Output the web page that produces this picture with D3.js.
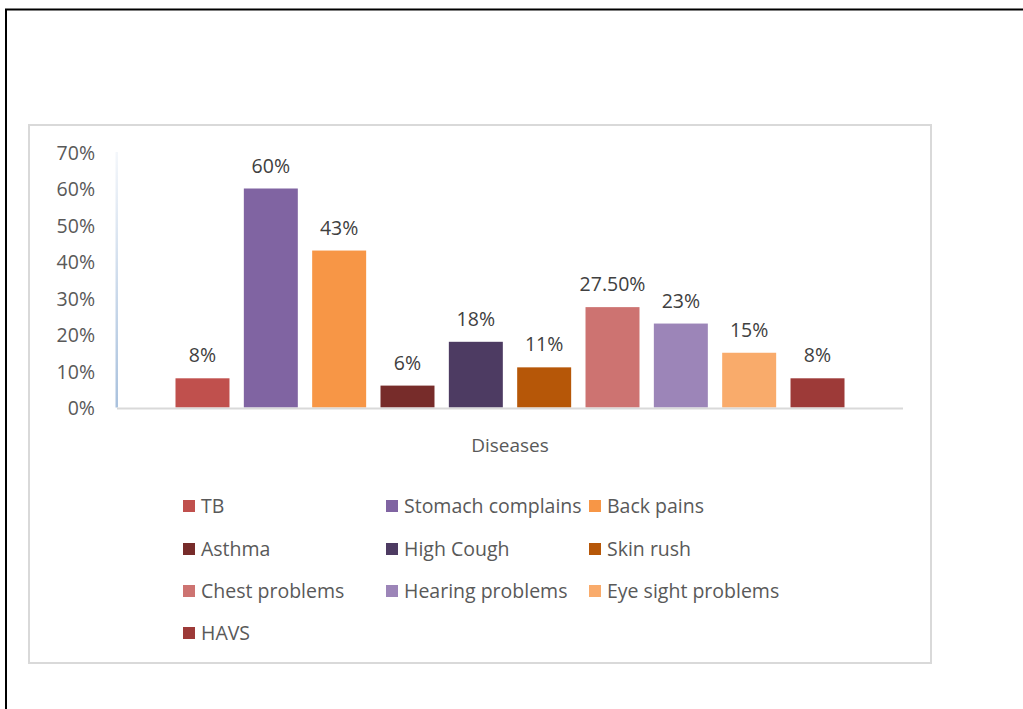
<!DOCTYPE html>
<html><head><meta charset="utf-8">
<script src="https://cdn.jsdelivr.net/npm/d3@7"></script>
<style>html,body{margin:0;padding:0;background:#fff;}svg{display:block;}</style>
</head><body>
<svg id="c" width="1023" height="709"></svg>
<script>
const categories = ["TB","Stomach complains","Back pains","Asthma","High Cough","Skin rush","Chest problems","Hearing problems","Eye sight problems","HAVS"];
const values = [8,60,43,6,18,11,27.5,23,15,8];
const valueLabels = ["8%","60%","43%","6%","18%","11%","27.50%","23%","15%","8%"];
const colors = ["#c0504d","#8064a2","#f79646","#772c2a","#4d3b62","#b65708","#cd7371","#9c85b8","#f9ab6b","#9d3a38"];
const yTicks = [0,10,20,30,40,50,60,70];
const xTitle = "Diseases";

const svg = d3.select("#c");
const font = "'Open Sans', sans-serif";

// outer page frame
svg.append("path").attr("d","M6,709 L6,9.5 L1023,9.5").attr("fill","none").attr("stroke","#000").attr("stroke-width",2);
// chart box
svg.append("rect").attr("x",29).attr("y",125).attr("width",902).attr("height",538)
  .attr("fill","#fff").attr("stroke","#d9d9d9").attr("stroke-width",2);

const x0 = 117, x1 = 903, yTop = 152, yBot = 407.5;
const y = d3.scaleLinear().domain([0,70]).range([yBot,yTop]);
const x = d3.scaleBand().domain(categories).range([x0,x1]).paddingInner(0.21).paddingOuter(0.856);

// gradient y axis line
const defs = svg.append("defs");
const g = defs.append("linearGradient").attr("id","yg").attr("x1",0).attr("y1",0).attr("x2",0).attr("y2",1);
g.append("stop").attr("offset","0%").attr("stop-color","#f4f7fb");
g.append("stop").attr("offset","100%").attr("stop-color","#a9c1dd");
svg.append("rect").attr("x",x0-1.5).attr("y",yTop).attr("width",2.5).attr("height",yBot-yTop).attr("fill","url(#yg)");

// y tick labels
const yAxis = d3.axisLeft(y).tickValues(yTicks).tickFormat(d=>d+"%").tickSize(0).tickPadding(0);
const ya = svg.append("g").attr("transform","translate(95,0)").call(yAxis);
ya.select(".domain").remove();
ya.selectAll("text").attr("font-family",font).attr("font-size",19.5).attr("fill","#595959").attr("dy","0.36em");

// bars
svg.append("g").selectAll("rect").data(categories).join("rect")
  .attr("x",d=>x(d)).attr("width",x.bandwidth())
  .attr("y",(d,i)=>y(values[i])).attr("height",(d,i)=>yBot-y(values[i]))
  .attr("fill",(d,i)=>colors[i]);

// x axis baseline
svg.append("line").attr("x1",x0).attr("x2",x1).attr("y1",yBot+1).attr("y2",yBot+1).attr("stroke","#d9d9d9").attr("stroke-width",2);

// data labels
svg.append("g").selectAll("text").data(categories).join("text")
  .attr("x",d=>x(d)+x.bandwidth()/2).attr("y",(d,i)=>y(values[i])-16)
  .attr("text-anchor","middle").attr("font-family",font).attr("font-size",19.5).attr("fill","#404040")
  .text((d,i)=>valueLabels[i]);

// x title
svg.append("text").attr("x",(x0+x1)/2).attr("y",452).attr("text-anchor","middle")
  .attr("font-family",font).attr("font-size",19).attr("fill","#595959").text(xTitle);

// legend
const colX = [183,386,589], rowY = [506,549,591,633];
const lg = svg.append("g").selectAll("g").data(categories).join("g")
  .attr("transform",(d,i)=>`translate(${colX[i%3]},${rowY[Math.floor(i/3)]})`);
lg.append("rect").attr("x",0).attr("y",-6).attr("width",12).attr("height",12).attr("fill",(d,i)=>colors[i]);
lg.append("text").attr("x",18).attr("y",7).attr("font-family",font).attr("font-size",19.5).attr("fill","#595959").text(d=>d);
</script>
</body></html>
